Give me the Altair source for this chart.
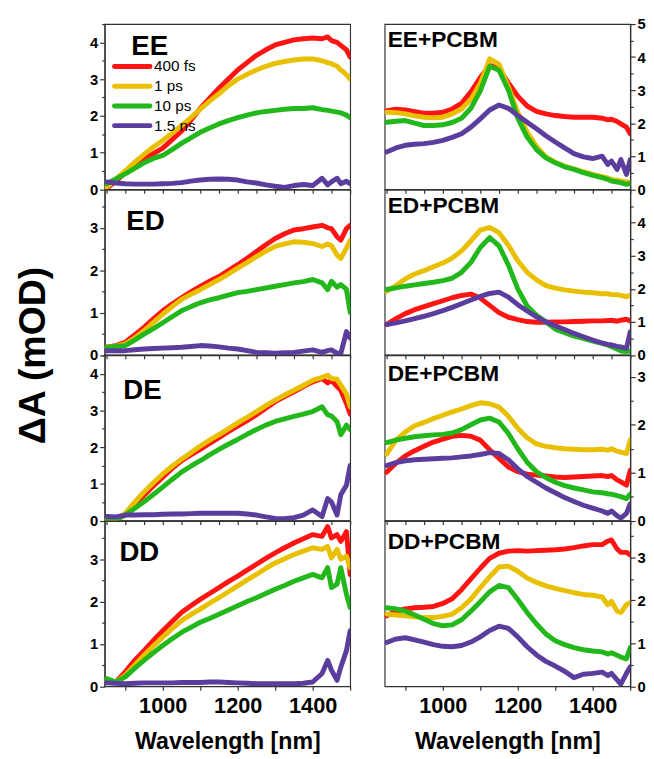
import altair as alt
import pandas as pd

FONT = "Liberation Sans"

WL = [850, 875, 900, 925, 950, 975, 1000, 1025, 1050, 1075, 1100, 1125, 1150, 1175,
      1200, 1225, 1250, 1275, 1300, 1325, 1350, 1375, 1400, 1425, 1440, 1450, 1465,
      1475, 1490, 1500]

SERIES = ["400 fs", "1 ps", "10 ps", "1.5 ns"]
COLORS = ["#ff1414", "#e8c000", "#22b81c", "#5b3d9e"]

EE = {
    "400 fs": [0.02, 0.22, 0.45, 0.65, 0.83, 0.97, 1.12, 1.35, 1.58, 1.88, 2.2, 2.48, 2.75, 3.0, 3.25, 3.45, 3.65, 3.8, 3.93, 4.0, 4.07, 4.1, 4.12, 4.1, 4.15, 4.05, 4.0, 3.92, 3.8, 3.6],
    "1 ps": [0.05, 0.28, 0.5, 0.73, 0.95, 1.15, 1.33, 1.53, 1.73, 1.95, 2.18, 2.4, 2.6, 2.82, 3.0, 3.13, 3.25, 3.35, 3.43, 3.48, 3.52, 3.55, 3.55, 3.5, 3.45, 3.42, 3.35, 3.25, 3.12, 3.0],
    "10 ps": [0.15, 0.28, 0.42, 0.57, 0.72, 0.84, 0.92, 1.08, 1.25, 1.4, 1.55, 1.67, 1.78, 1.87, 1.95, 2.02, 2.08, 2.12, 2.15, 2.18, 2.2, 2.2, 2.22, 2.17, 2.15, 2.13, 2.1, 2.08, 2.02, 1.95],
    "1.5 ns": [0.2, 0.17, 0.15, 0.14, 0.14, 0.14, 0.15, 0.16, 0.18, 0.22, 0.25, 0.27, 0.28, 0.27, 0.25, 0.2, 0.17, 0.12, 0.08, 0.05, 0.1, 0.13, 0.1, 0.3, 0.12, 0.2, 0.3, 0.15, 0.22, 0.15],
}
EE_PCBM = {
    "400 fs": [2.38, 2.42, 2.4, 2.35, 2.3, 2.3, 2.33, 2.43, 2.6, 2.95, 3.38, 3.75, 3.65, 3.22, 2.82, 2.52, 2.36, 2.28, 2.23, 2.2, 2.18, 2.18, 2.18, 2.15, 2.1, 2.12, 2.05, 1.98, 1.88, 1.68],
    "1 ps": [2.33, 2.32, 2.28, 2.22, 2.18, 2.16, 2.18, 2.28, 2.43, 2.72, 3.2, 3.95, 3.78, 3.1, 2.33, 1.73, 1.3, 0.98, 0.82, 0.7, 0.62, 0.53, 0.45, 0.38, 0.34, 0.3, 0.27, 0.25, 0.22, 0.2],
    "10 ps": [2.03, 2.06, 2.08, 2.0, 1.93, 1.93, 1.95, 2.02, 2.15, 2.45, 2.98, 3.72, 3.6, 3.0, 2.15, 1.58, 1.2, 0.95, 0.8, 0.68, 0.6, 0.5, 0.42, 0.35, 0.3, 0.25, 0.22, 0.2, 0.15, 0.18],
    "1.5 ns": [1.13, 1.25, 1.33, 1.36, 1.38, 1.42, 1.48, 1.57, 1.68, 1.88, 2.13, 2.4, 2.55, 2.45, 2.23, 2.03, 1.83, 1.62, 1.43, 1.25, 1.08, 0.98, 0.93, 1.0, 0.75, 0.85, 0.6, 0.9, 0.45, 0.9],
}
ED = {
    "400 fs": [0.18, 0.22, 0.3, 0.47, 0.65, 0.85, 1.04, 1.2, 1.35, 1.49, 1.62, 1.74, 1.85, 1.99, 2.13, 2.28, 2.44, 2.6, 2.75, 2.86, 2.95, 2.98, 3.02, 3.06, 3.0, 2.98, 2.79, 2.71, 2.98, 3.06],
    "1 ps": [0.18, 0.2, 0.26, 0.4, 0.57, 0.77, 0.96, 1.14, 1.31, 1.43, 1.54, 1.66, 1.78, 1.91, 2.05, 2.18, 2.32, 2.45, 2.56, 2.62, 2.67, 2.66, 2.63, 2.56, 2.62, 2.58, 2.36, 2.28, 2.52, 2.7],
    "10 ps": [0.18, 0.2, 0.22, 0.35, 0.49, 0.62, 0.76, 0.9, 1.04, 1.14, 1.23, 1.3, 1.35, 1.41, 1.47, 1.5, 1.54, 1.58, 1.62, 1.66, 1.7, 1.73, 1.78, 1.7, 1.54, 1.74, 1.6, 1.66, 1.55, 1.0],
    "1.5 ns": [0.1, 0.1, 0.1, 0.12, 0.14, 0.15, 0.16, 0.17, 0.18, 0.2, 0.22, 0.21, 0.19, 0.16, 0.14, 0.1, 0.06, 0.05, 0.04, 0.05, 0.06, 0.09, 0.12, 0.06, 0.1, 0.12, 0.04, 0.03, 0.55, 0.4],
}
ED_PCBM = {
    "400 fs": [0.92, 1.1, 1.25, 1.37, 1.46, 1.55, 1.64, 1.73, 1.8, 1.84, 1.72, 1.5, 1.28, 1.14, 1.07, 1.01, 0.99, 0.99, 1.0, 1.0, 1.01, 1.02, 1.03, 1.03, 1.04, 1.05, 1.02, 1.05, 1.08, 1.03],
    "1 ps": [1.92, 2.1, 2.3, 2.45, 2.55, 2.67, 2.78, 2.93, 3.15, 3.45, 3.78, 3.86, 3.7, 3.32, 2.85, 2.5, 2.27, 2.1, 2.02, 1.97, 1.93, 1.9, 1.88, 1.85, 1.85, 1.83, 1.82, 1.8, 1.76, 1.8],
    "10 ps": [1.98, 2.03, 2.08, 2.12, 2.16, 2.2, 2.25, 2.32, 2.5, 2.8, 3.25, 3.55, 3.3, 2.72, 2.0, 1.48, 1.2, 1.0, 0.78, 0.67, 0.57, 0.5, 0.42, 0.35, 0.3, 0.25, 0.18, 0.12, 0.1, 0.12],
    "1.5 ns": [0.92, 0.97, 1.03, 1.1, 1.17, 1.25, 1.34, 1.44, 1.55, 1.66, 1.77, 1.86, 1.9, 1.75, 1.52, 1.33, 1.15, 1.0, 0.88, 0.77, 0.65, 0.55, 0.45, 0.36, 0.32, 0.3, 0.26, 0.24, 0.2, 0.7],
}
DE = {
    "400 fs": [0.02, 0.03, 0.15, 0.42, 0.69, 0.94, 1.18, 1.42, 1.63, 1.79, 1.94, 2.1, 2.26, 2.42, 2.57, 2.72, 2.88, 3.06, 3.24, 3.38, 3.51, 3.65, 3.78, 3.87, 3.75, 3.82, 3.65, 3.55, 3.19, 2.9],
    "1 ps": [0.02, 0.04, 0.2, 0.5, 0.78, 1.03, 1.27, 1.48, 1.67, 1.85, 2.03, 2.19, 2.34, 2.5, 2.66, 2.81, 2.97, 3.13, 3.28, 3.42, 3.55, 3.68, 3.82, 3.9, 3.96, 3.87, 3.85, 3.69, 3.45, 3.1],
    "10 ps": [0.02, 0.03, 0.15, 0.33, 0.51, 0.71, 0.91, 1.12, 1.32, 1.48, 1.63, 1.79, 1.94, 2.08, 2.21, 2.35, 2.48, 2.6, 2.7, 2.77, 2.84, 2.9, 2.97, 3.1, 2.88, 2.85, 2.7, 2.34, 2.6, 2.48],
    "1.5 ns": [0.11, 0.1, 0.15, 0.15, 0.16, 0.16, 0.17, 0.18, 0.18, 0.19, 0.2, 0.2, 0.2, 0.2, 0.2, 0.18, 0.15, 0.1, 0.06, 0.05, 0.08, 0.15, 0.29, 0.11, 0.6, 0.51, 0.15, 0.7, 0.96, 1.5],
}
DE_PCBM = {
    "400 fs": [1.01, 1.2, 1.35, 1.46, 1.55, 1.64, 1.7, 1.76, 1.78, 1.76, 1.68, 1.48, 1.3, 1.12, 1.02, 0.97, 0.95, 0.93, 0.91, 0.9, 0.91, 0.92, 0.93, 0.94, 0.92, 0.94, 0.85, 0.81, 0.74, 1.05],
    "1 ps": [1.39, 1.68, 1.85, 1.98, 2.05, 2.13, 2.2, 2.27, 2.33, 2.4, 2.46, 2.44, 2.37, 2.18, 1.93, 1.73, 1.6, 1.55, 1.52, 1.5, 1.49, 1.48, 1.48, 1.49, 1.47, 1.5, 1.45, 1.43, 1.4, 1.68],
    "10 ps": [1.63, 1.68, 1.72, 1.75, 1.77, 1.79, 1.8, 1.83, 1.9, 2.0, 2.1, 2.14, 2.06, 1.82, 1.5, 1.22, 1.02, 0.9, 0.8, 0.73, 0.68, 0.64, 0.6, 0.58, 0.56, 0.55, 0.52, 0.5, 0.46, 0.55],
    "1.5 ns": [1.15, 1.21, 1.25, 1.27, 1.28, 1.29, 1.3, 1.31, 1.33, 1.35, 1.38, 1.42, 1.4, 1.27, 1.08, 0.92, 0.8, 0.68, 0.58, 0.48, 0.4, 0.32, 0.26, 0.2, 0.15, 0.2, 0.1, 0.05, 0.15, 0.35],
}
DD = {
    "400 fs": [0.14, 0.1, 0.34, 0.61, 0.84, 1.08, 1.31, 1.53, 1.74, 1.9, 2.05, 2.19, 2.33, 2.47, 2.6, 2.74, 2.88, 3.02, 3.15, 3.27, 3.38, 3.48, 3.58, 3.54, 3.77, 3.5, 3.58, 3.42, 3.65, 2.64],
    "1 ps": [0.14, 0.1, 0.26, 0.5, 0.73, 0.95, 1.16, 1.36, 1.55, 1.69, 1.82, 1.96, 2.09, 2.23, 2.37, 2.51, 2.64, 2.78, 2.91, 3.01, 3.11, 3.19, 3.27, 3.23, 3.3, 3.03, 3.23, 3.0, 3.07, 2.8],
    "10 ps": [0.18, 0.1, 0.22, 0.42, 0.61, 0.79, 0.96, 1.12, 1.27, 1.39, 1.51, 1.6, 1.7, 1.8, 1.9, 2.0, 2.09, 2.19, 2.29, 2.38, 2.48, 2.56, 2.64, 2.56, 2.8, 2.33, 2.41, 2.8, 2.17, 1.86],
    "1.5 ns": [0.08, 0.07, 0.06, 0.07, 0.08, 0.08, 0.08, 0.08, 0.09, 0.09, 0.09, 0.1, 0.1, 0.09, 0.08, 0.07, 0.06, 0.06, 0.06, 0.06, 0.06, 0.07, 0.1, 0.3, 0.61, 0.38, 0.14, 0.45, 0.84, 1.31],
}
DD_PCBM = {
    "400 fs": [1.64, 1.75, 1.8, 1.83, 1.84, 1.86, 1.93, 2.04, 2.25, 2.5, 2.75, 2.98, 3.1, 3.15, 3.16, 3.15, 3.16, 3.17, 3.18, 3.2, 3.23, 3.27, 3.3, 3.3, 3.38, 3.41, 3.2, 3.12, 3.12, 3.06],
    "1 ps": [1.68, 1.66, 1.64, 1.62, 1.6, 1.6, 1.63, 1.68, 1.83, 2.03, 2.3, 2.55, 2.78, 2.8, 2.68, 2.52, 2.42, 2.34, 2.28, 2.23, 2.18, 2.14, 2.12, 2.08, 1.9, 1.98, 1.75, 1.72, 1.9, 1.95],
    "10 ps": [1.83, 1.8, 1.75, 1.66, 1.56, 1.46, 1.41, 1.43, 1.55, 1.75, 1.97, 2.2, 2.35, 2.3, 2.02, 1.72, 1.45, 1.22, 1.06, 0.97, 0.9, 0.85, 0.82, 0.8, 0.75, 0.78, 0.72, 0.68, 0.64, 0.9],
    "1.5 ns": [1.02, 1.1, 1.13, 1.08, 1.03, 0.97, 0.93, 0.92, 0.95, 1.03, 1.15, 1.3, 1.4, 1.35, 1.15, 0.92, 0.73, 0.58, 0.47, 0.35, 0.2, 0.28, 0.3, 0.33, 0.25, 0.3, 0.15, 0.05, 0.3, 0.45],
}

LEFT_PANELS = [("EE", EE), ("ED", ED), ("DE", DE), ("DD", DD)]
RIGHT_PANELS = [("EE+PCBM", EE_PCBM), ("ED+PCBM", ED_PCBM), ("DE+PCBM", DE_PCBM), ("DD+PCBM", DD_PCBM)]
LEFT_YMAX = [4.5, 3.9, 4.5, 3.9]
RIGHT_YMAX = [5.0, 5.0, 3.45, 3.85]

W, H = 249, 167.5
AXC = "#333333"


def make_df(panel):
    rows = []
    for s in SERIES:
        for w, v in zip(WL, panel[s]):
            rows.append({"series": s, "wl": w, "val": v})
    return pd.DataFrame(rows)


color = alt.Color("series:N", scale=alt.Scale(domain=SERIES, range=COLORS), legend=None)


def panel_chart(name, data, col, row, ymax, lx, ly):
    bottom = row == 3
    xvals = list(range(900, 1501, 100)) if bottom else list(range(850, 1501, 50))
    xaxis = alt.Axis(
        values=xvals, format="d", labels=bottom,
        labelExpr="datum.value % 200 == 0 ? datum.label : ''",
        title="Wavelength [nm]" if bottom else None,
        tickSize=4, grid=False, labelFontSize=22, labelPadding=6,
        titleFontSize=23.5, titlePadding=13,
    )
    nvals = int(round(ymax * 2 + 1e-9))
    yvals = [i * 0.5 for i in range(nvals + 1)]
    if col == 1 and row == 1:
        yvals = [v for v in yvals if v < 5]
    yaxis_kw = dict(
        orient="left" if col == 0 else "right", values=yvals,
        labelExpr="datum.value % 1 == 0 ? format(datum.value, 'd') : ''",
        tickSize={"condition": {"test": "datum.value % 1 === 0", "value": 5}, "value": 3},
        grid=False, labelFontSize=15, labelPadding=2,
    )
    if col == 0 and row == 1:
        yaxis_kw.update(title="ΔA (mOD)", titleX=-72, titleY=H, titleAngle=270,
                        titleAlign="center", titleBaseline="middle",
                        titleFontSize=38)
    else:
        yaxis_kw.update(title=None)
    lines = alt.Chart(make_df(data)).mark_line(
        strokeWidth=5, strokeJoin="round", strokeCap="round", clip=True
    ).encode(
        x=alt.X("wl:Q", scale=alt.Scale(domain=[845, 1500], nice=False, zero=False), axis=xaxis),
        y=alt.Y("val:Q", scale=alt.Scale(domain=[0, ymax], nice=False, zero=False), axis=alt.Axis(**yaxis_kw)),
        color=color,
    )
    label = alt.Chart(pd.DataFrame({"t": [name]})).mark_text(
        align="left", baseline="alphabetic", font=FONT, fontWeight="bold",
        fontSize=28 if col == 0 else 23,
    ).encode(text="t:N", x=alt.value(lx), y=alt.value(ly))
    layers = [lines, label]
    if col == 0 and row == 0:
        leg_df = pd.DataFrame({"series": SERIES})
        ypos = alt.Y("series:N", scale=alt.Scale(type="point", domain=SERIES, range=[43, 103], padding=0), axis=None)
        leg_rule = alt.Chart(leg_df).mark_rule(strokeWidth=5, strokeCap="round").encode(
            y=ypos, x=alt.value(10), x2=alt.value(46), color=color)
        leg_text = alt.Chart(leg_df).mark_text(
            align="left", baseline="middle", font=FONT, fontSize=15.5
        ).encode(y=ypos, x=alt.value(50), text="series:N")
        layers += [leg_rule, leg_text]
        return alt.layer(*layers).resolve_scale(y="independent").properties(width=W, height=H)
    return alt.layer(*layers).properties(width=W, height=H)


LEFT_LABEL_POS = [(27, 31), (22, 41), (19, 44), (15, 40)]
RIGHT_LABEL_POS = [(3, 23), (3, 24), (3, 26), (3, 28)]

panels = []
for i in range(4):
    ln, ld = LEFT_PANELS[i]
    rn, rd = RIGHT_PANELS[i]
    panels.append(panel_chart(ln, ld, 0, i, LEFT_YMAX[i], *LEFT_LABEL_POS[i]))
    panels.append(panel_chart(rn, rd, 1, i, RIGHT_YMAX[i], *RIGHT_LABEL_POS[i]))

chart = alt.concat(
    *panels, columns=2, spacing={"row": 0, "column": 35}, bounds="flush"
).properties(
    padding={"left": 6, "top": 3, "right": 0, "bottom": 0}
).configure(font=FONT).configure_view(
    stroke=AXC, strokeWidth=1.2
).configure_axis(
    domainColor=AXC, tickColor=AXC, domainWidth=1.2, tickWidth=1.2,
    labelFont=FONT, labelFontWeight="bold", labelColor="black",
    titleFont=FONT, titleFontWeight="bold", titleColor="black",
)

chart.save("out.html", embed_options={"renderer": "svg", "actions": False})
